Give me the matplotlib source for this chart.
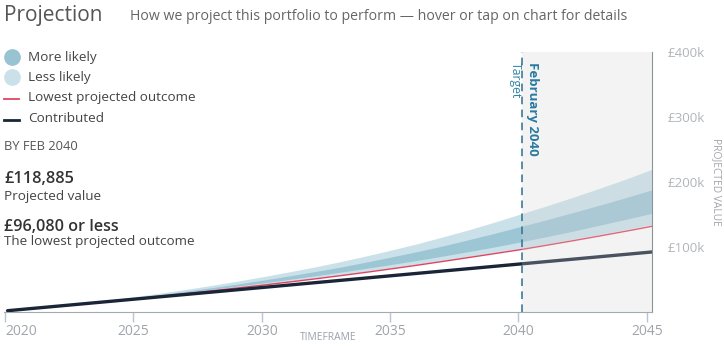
import matplotlib.pyplot as plt
from matplotlib.lines import Line2D

plt.rcParams['font.family'] = ['Open Sans', 'DejaVu Sans']

# years (Feb of each year) and projected values in £k
years = [2020.1, 2021.1, 2022.1, 2023.1, 2024.1, 2025.1, 2026.1, 2027.1, 2028.1,
         2029.1, 2030.1, 2031.1, 2032.1, 2033.1, 2034.1, 2035.1, 2036.1, 2037.1,
         2038.1, 2039.1, 2040.1, 2041.1, 2042.1, 2043.1, 2044.1, 2045.1, 2045.2]
contributed = [2.0, 5.6, 9.2, 12.8, 16.4, 20.0, 23.6, 27.2, 30.8, 34.4, 38.0, 41.6,
               45.2, 48.8, 52.4, 56.0, 59.6, 63.2, 66.8, 70.4, 74.0, 77.6, 81.2,
               84.8, 88.4, 92.0, 92.4]
lowest = [2.0, 5.6, 9.25, 12.95, 16.7, 20.55, 24.5, 28.55, 32.75, 37.1, 41.6, 46.25,
          51.05, 56.05, 61.25, 66.65, 72.25, 78.05, 84.05, 90.0, 96.08, 102.7, 109.5,
          116.5, 123.7, 131.1, 132.0]
less_low = [2.0, 5.6, 9.3, 13.0, 16.8, 20.75, 24.8, 28.9, 33.2, 37.6, 42.4, 47.2,
            52.1, 57.2, 62.5, 68.0, 73.7, 79.6, 85.7, 91.8, 98.0, 104.8, 111.7,
            118.8, 126.2, 133.7, 134.6]
more_low = [2.0, 5.7, 9.4, 13.3, 17.3, 21.4, 25.7, 30.2, 35.0, 39.9, 45.0, 50.3,
            55.8, 61.5, 67.3, 73.4, 79.6, 86.3, 93.2, 100.3, 108.0, 116.0, 124.2,
            133.1, 141.9, 150.9, 152.0]
more_high = [2.0, 5.7, 9.7, 13.8, 18.0, 22.6, 27.4, 32.4, 37.7, 43.3, 49.4, 55.7,
             62.4, 69.3, 77.0, 85.1, 93.3, 102.1, 111.6, 121.4, 131.7, 142.0, 152.7,
             163.7, 175.0, 186.8, 188.0]
less_high = [2.0, 5.8, 9.8, 14.2, 18.9, 23.9, 29.3, 35.1, 41.3, 47.8, 54.7, 62.0,
             69.6, 77.8, 86.5, 95.8, 105.5, 116.0, 126.9, 138.7, 151.0, 163.3, 176.2,
             189.5, 203.3, 218.0, 220.0]

target_year = 2040.15
xticks = [2020, 2025, 2030, 2035, 2040, 2045]
yticks = [100, 200, 300, 400]
ylabels = ['£100k', '£200k', '£300k', '£400k']

W, H = 724, 346


def px(x, y):
    return x / W, 1 - y / H


fig = plt.figure(figsize=(W / 100, H / 100), dpi=100)
ax = fig.add_axes([4 / W, 1 - 312 / H, 648 / W, 260 / H])

ax.fill_between(years, less_low, less_high, color='#cbe1e9', lw=0, zorder=1)
ax.fill_between(years, more_low, more_high, color='#9dc6d5', lw=0, zorder=2)
ax.plot(years, lowest, color='#e2435f', lw=1.0, zorder=3)
ax.plot(years, contributed, color='#1a2637', lw=2.4, solid_capstyle='round', zorder=4)

# greyed-out period after the target date
ax.axvspan(target_year, 2045.2, color='#d2d2d2', alpha=0.26, lw=0, zorder=5)
ax.axvline(target_year, color='#2d6f8f', lw=1.1, ls=(0, (5, 3.5)), zorder=6)

ax.set_xlim(2019.96, 2045.2)
ax.set_ylim(0, 400)

for s in ['top', 'left']:
    ax.spines[s].set_visible(False)
ax.spines['bottom'].set_color('#a3aab2')
ax.spines['right'].set_color('#8c9299')

ax.set_xticks(xticks)
ax.set_xticklabels([str(t) for t in xticks])
ax.tick_params(axis='x', length=7, width=1, color='#b7c6d4', labelsize=10,
               labelcolor='#a0a5ab', pad=1.5)
ax.get_xticklabels()[0].set_horizontalalignment('left')

ax.yaxis.tick_right()
ax.set_yticks(yticks)
ax.set_yticklabels(ylabels)
ax.tick_params(axis='y', length=0, labelsize=9.6, labelcolor='#b2b5b9', pad=11.5)

# header
fig.text(*px(4, 16), 'Projection', fontsize=15, color='#555555', va='center')
fig.text(*px(130, 17), 'How we project this portfolio to perform \u2014 hover or tap on chart for details',
         fontsize=10.2, color='#666666', va='center')

# legend
fig.add_artist(Line2D([px(11.5, 57)[0]], [px(11.5, 57)[1]], marker='o', markersize=11,
                      color='#97c3d3', lw=0, transform=fig.transFigure))
fig.add_artist(Line2D([px(11.5, 77)[0]], [px(11.5, 77)[1]], marker='o', markersize=11,
                      color='#cbe1e9', lw=0, transform=fig.transFigure))
fig.add_artist(Line2D([4 / W, 19 / W], [px(0, 98.5)[1]] * 2, color='#e2435f', lw=1.3,
                      transform=fig.transFigure))
fig.add_artist(Line2D([4 / W, 19 / W], [px(0, 119.5)[1]] * 2, color='#1a2637', lw=2,
                      transform=fig.transFigure))
legend_labels = ['More likely', 'Less likely', 'Lowest projected outcome', 'Contributed']
for lbl, y in zip(legend_labels, [57, 77, 98, 119]):
    fig.text(*px(28, y), lbl, fontsize=9.7, color='#444444', va='center')

# summary figures
fig.text(*px(4, 147), 'BY FEB 2040', fontsize=9.3, color='#555555', va='center')
fig.text(*px(4, 179), '£118,885', fontsize=11.8, color='#333333', va='center', weight='semibold')
fig.text(*px(4, 196.5), 'Projected value', fontsize=9.7, color='#444444', va='center')
fig.text(*px(4, 227), '£96,080 or less', fontsize=11.6, color='#333333', va='center', weight='semibold')
fig.text(*px(4, 242), 'The lowest projected outcome', fontsize=9.7, color='#444444', va='center')

# target annotations
fig.text(*px(532, 62), 'February 2040', fontsize=9.5, color='#2a7aa0', weight='bold',
         rotation=270, ha='center', va='top')
fig.text(*px(515.5, 62), 'Target', fontsize=8.8, color='#3383a8', rotation=270,
         ha='center', va='top')

# axis titles
fig.text(*px(328, 338), 'TIMEFRAME', fontsize=7.4, color='#9aa0a8', ha='center', va='center')
fig.text(*px(716, 182), 'PROJECTED VALUE', fontsize=7.4, color='#a0a4aa', rotation=270,
         ha='center', va='center')

fig.savefig('out.png', dpi=100)
